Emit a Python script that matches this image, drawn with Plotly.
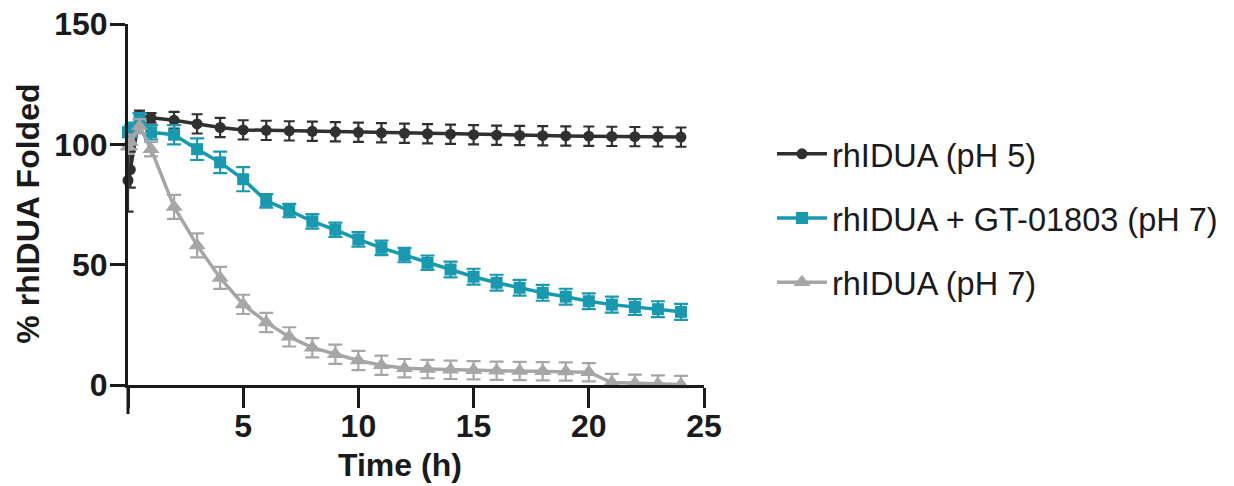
import plotly.graph_objects as go

# ---- data ----
time_h = [0, 0.1, 0.5, 1] + list(range(2, 25))

ph5_mean = [85, 89.5, 112, 111, 110, 108.5, 107, 106, 105.8, 105.6, 105.4, 105.2,
            105, 104.8, 104.6, 104.4, 104.2, 104, 103.8, 103.7, 103.6, 103.5,
            103.4, 103.3, 103.2, 103.1, 103]
ph5_err = [13, 7.5, 2, 2, 3.5, 4, 4, 4, 4, 4, 4, 4, 4, 4, 4, 4, 4, 4, 4, 4, 4, 4,
           4, 4, 4, 4, 4]

gt_mean = [105, 106, 110, 105, 104, 98, 92.5, 85.5, 76.5, 72.5, 68, 64.5, 60.5,
           57, 54, 50.8, 48, 45, 42.5, 40.4, 38.3, 36.7, 34.8, 33.4, 32.4, 31.5, 30.4]
gt_err = [3, 3, 3, 3, 4, 4.5, 4.5, 5, 2.8, 2.8, 3, 3, 3, 3, 3, 3, 3.3, 3.3, 3.3,
          3.3, 3.3, 3.3, 3.3, 3.3, 3.3, 3.3, 3.3]

ph7_mean = [99, 101, 107.5, 98, 74, 58, 44.5, 33.5, 26, 20, 15.5, 12.8, 10.2, 8.2,
            7, 6.6, 6.3, 6.1, 5.9, 5.8, 5.7, 5.6, 5.3, 1, 0.7, 0.4, 0.2]
ph7_err = [3, 3, 3, 3, 5, 5, 4.6, 4, 4, 4, 4, 4, 4, 4, 3.8, 3.8, 3.8, 3.8, 3.8,
           3.8, 3.8, 3.8, 3.8, 3.6, 3.6, 3.6, 3.6]

names = ["rhIDUA (pH 5)", "rhIDUA + GT-01803 (pH 7)", "rhIDUA (pH 7)"]
colors = ["#303030", "#1899b0", "#a6a6a9"]
symbols = ["circle", "square", "triangle-up"]
sizes = [11, 12, 15]
cap_w = [5.5, 7, 7]

x_ticks = [0, 5, 10, 15, 20, 25]
x_ticktext = ["", "5", "10", "15", "20", "25"]
y_ticks = [0, 50, 100, 150]

FONT = "Liberation Sans, Arial, sans-serif"
AX = "#1a1a1a"

fig = go.Figure()
for nm, mean, err, col, sym, sz, cw in zip(
        names, [ph5_mean, gt_mean, ph7_mean], [ph5_err, gt_err, ph7_err],
        colors, symbols, sizes, cap_w):
    fig.add_trace(go.Scatter(
        x=time_h, y=mean, name=nm, mode="lines+markers",
        line=dict(color=col, width=3.5),
        marker=dict(symbol=sym, size=sz, color=col, line=dict(width=0)),
        error_y=dict(type="data", array=err, visible=True, color=col,
                     thickness=2.2, width=cw),
        cliponaxis=False, legendgroup=nm,
    ))

fig.update_layout(
    width=1234, height=486,
    margin=dict(l=128, r=530, t=24, b=101, autoexpand=False),
    paper_bgcolor="white", plot_bgcolor="white",
    font=dict(family=FONT, color=AX),
    showlegend=True,
    legend=dict(x=1.118, xanchor="left", y=0.462, yanchor="middle",
                font=dict(family=FONT, size=32.5, color=AX),
                itemwidth=50,
                tracegroupgap=19, bgcolor="rgba(0,0,0,0)"),
    xaxis=dict(range=[0, 25], tickvals=x_ticks, ticktext=x_ticktext,
               showgrid=False, zeroline=False, showline=True, linewidth=3,
               linecolor=AX, ticks="outside", ticklen=20, tickwidth=3,
               tickcolor=AX, ticklabelstandoff=-9,
               tickfont=dict(family=FONT, size=32, color=AX, weight="bold")),
    yaxis=dict(range=[0, 150], tickvals=y_ticks,
               showgrid=False, zeroline=False, showline=True, linewidth=3,
               linecolor=AX, ticks="outside", ticklen=15, tickwidth=3,
               tickcolor=AX, ticklabelstandoff=-4,
               tickfont=dict(family=FONT, size=32, color=AX, weight="bold")),
    annotations=[
        dict(text="<b>Time (h)</b>", xref="paper", yref="paper",
             x=0.472, y=-0.222, xanchor="center", yanchor="middle",
             showarrow=False, font=dict(family=FONT, size=32, color=AX)),
        dict(text="<b>% rhIDUA Folded</b>", xref="paper", yref="paper",
             x=-0.174, y=0.474, xanchor="center", yanchor="middle",
             textangle=-90, showarrow=False,
             font=dict(family=FONT, size=32, color=AX)),
    ],
    shapes=[
        dict(type="line", xref="paper", yref="paper", x0=0, x1=0,
             y0=0, y1=-29 / 361, line=dict(color=AX, width=3)),
    ],
)

fig.write_html("out.html")
